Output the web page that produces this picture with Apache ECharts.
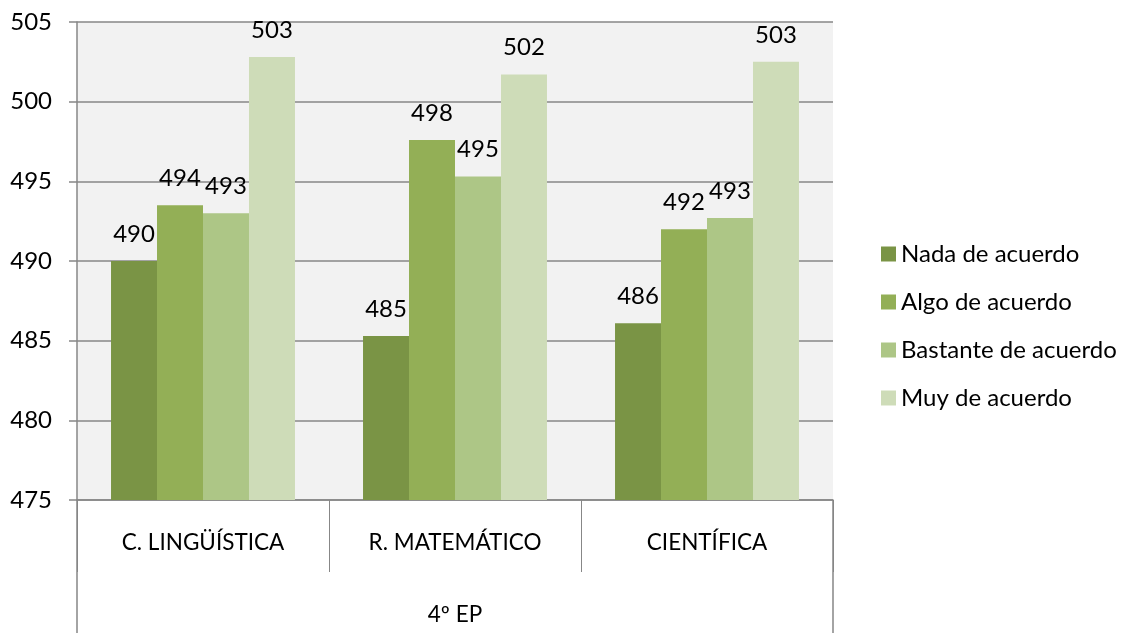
<!DOCTYPE html>
<html>
<head>
<meta charset="utf-8">
<script src="https://cdn.jsdelivr.net/npm/echarts@6/dist/echarts.min.js"></script>
<style>
html,body{margin:0;padding:0;background:#fff;}
#chart{width:1137px;height:633px;}
</style>
</head>
<body>
<div id="chart"></div>
<script>
const categories = ['C. LINGÜÍSTICA', 'R. MATEMÁTICO', 'CIENTÍFICA'];
const groupLabel = ['4º EP'];
const seriesNames = ['Nada de acuerdo', 'Algo de acuerdo', 'Bastante de acuerdo', 'Muy de acuerdo'];
const nadaValues = [490.0, 485.3, 486.1];
const algoValues = [493.5, 497.6, 492.0];
const bastanteValues = [493.0, 495.3, 492.7];
const muyValues = [502.8, 501.7, 502.5];
const yTicks = { min: 475, max: 505, interval: 5 };

const colors = ['#7a9445', '#93af56', '#adc686', '#cedcb8'];
const allValues = [nadaValues, algoValues, bastanteValues, muyValues];
const FONT = 'Lato';
const axisGray = '#878787';

const chart = echarts.init(document.getElementById('chart'));
const series = seriesNames.map((name, i) => ({
  name: name,
  type: 'bar',
  xAxisIndex: 0,
  data: allValues[i],
  barGap: '0%',
  barCategoryGap: '27%',
  itemStyle: { color: colors[i] },
  label: {
    show: true,
    position: 'top',
    distance: 15,
    color: '#000',
    fontFamily: FONT,
    fontSize: 24,
    formatter: p => Math.round(p.value)
  }
}));

chart.setOption({
  animation: false,
  textStyle: { fontFamily: FONT },
  grid: {
    left: 77, right: 304, top: 22, bottom: 133,
    show: true, backgroundColor: '#f2f2f2', borderWidth: 0
  },
  legend: {
    orient: 'vertical',
    left: 876,
    top: 237,
    itemWidth: 15,
    itemHeight: 15,
    itemGap: 24,
    icon: 'rect',
    data: seriesNames,
    textStyle: { fontFamily: FONT, fontSize: 24, color: '#000', lineHeight: 24 }
  },
  xAxis: [
    {
      type: 'category',
      data: categories,
      position: 'bottom',
      axisLine: { show: true, lineStyle: { color: axisGray, width: 1.5 } },
      axisTick: { show: true, length: 72, interval: 0, lineStyle: { color: axisGray, width: 1 } },
      axisLabel: { color: '#000', fontFamily: FONT, fontSize: 22.5, margin: 31, interval: 0 },
      splitLine: { show: false }
    },
    {
      type: 'category',
      data: groupLabel,
      position: 'bottom',
      axisLine: { show: false },
      axisTick: { show: true, length: 133, lineStyle: { color: axisGray, width: 1.5 } },
      axisLabel: { color: '#000', fontFamily: FONT, fontSize: 22.5, margin: 103 },
      splitLine: { show: false }
    }
  ],
  yAxis: {
    type: 'value',
    min: yTicks.min,
    max: yTicks.max,
    interval: yTicks.interval,
    axisLine: { show: true, lineStyle: { color: axisGray, width: 1.5 } },
    axisTick: { show: true, length: 8, lineStyle: { color: axisGray, width: 1.5 } },
    axisLabel: { color: '#000', fontFamily: FONT, fontSize: 24, margin: 25 },
    splitLine: { show: true, lineStyle: { color: axisGray, width: 1.5 } }
  },
  series: series
});
</script>
</body>
</html>
